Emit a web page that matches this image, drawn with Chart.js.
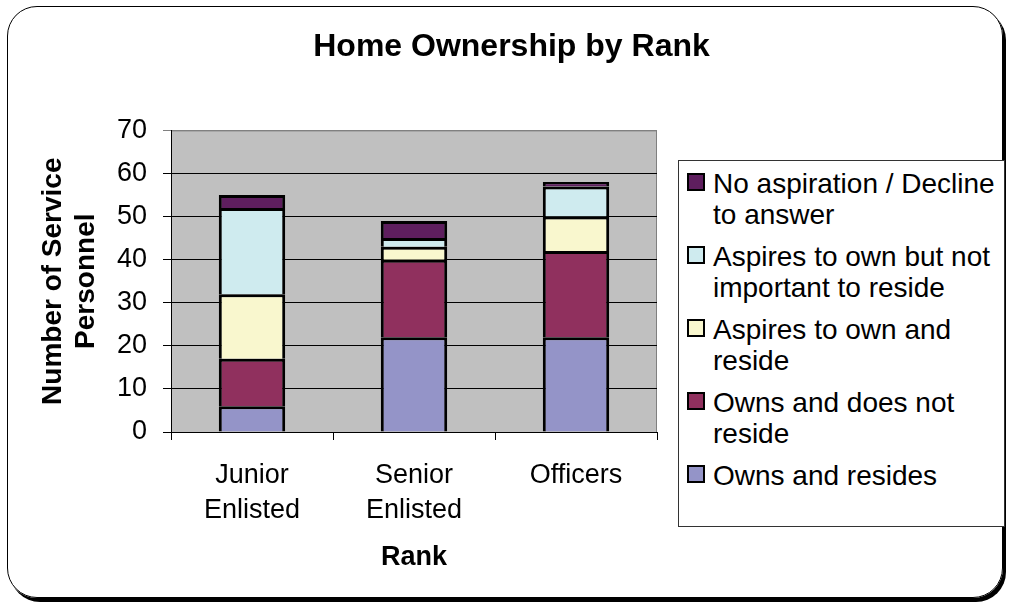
<!DOCTYPE html>
<html>
<head>
<meta charset="utf-8">
<title>Home Ownership by Rank</title>
<script src="https://cdn.jsdelivr.net/npm/chart.js@4.4.1/dist/chart.umd.min.js"></script>
<style>
  html, body { margin: 0; padding: 0; background: #fff; }
  body { width: 1009px; height: 606px; position: relative; overflow: hidden; font-family: "Liberation Sans", Arial, sans-serif; }
  #frame { position: absolute; left: 7px; top: 6px; width: 994px; height: 590px; border: 1.5px solid #000; border-radius: 30px; box-shadow: 3px 4px 0 #000; }
  #chart { position: absolute; left: 0; top: 0; }
  #legend { position: absolute; left: 678px; top: 160px; width: 327px; height: 367px; box-sizing: border-box; border: 1px solid #333; background: #fff; padding: 7px 0 0 8px; }
  .item { display: flex; align-items: flex-start; margin-bottom: 11px; }
  .swatch { width: 14px; height: 14px; border: 2px solid #000; margin: 5px 8px 0 0; flex: none; }
  .label { font-size: 28px; line-height: 31px; width: 290px; color: #000; }
</style>
</head>
<body>
<div id="frame"></div>
<canvas id="chart" width="1009" height="606"></canvas>
<div id="legend"></div>
<script>
// categories and series (stacked bottom to top)
const ranks = [['Junior', 'Enlisted'], ['Senior', 'Enlisted'], 'Officers'];
const seriesNames = [
  'Owns and resides',
  'Owns and does not reside',
  'Aspires to own and reside',
  'Aspires to own but not important to reside',
  'No aspiration / Decline to answer'
];
const ownsResides = [6, 22, 22];
const ownsNotReside = [11, 18, 20];
const aspiresReside = [15, 3, 8];
const aspiresNotReside = [20, 2, 7];
const noAspiration = [3, 4, 1];
const yTicks = [0, 10, 20, 30, 40, 50, 60, 70];

const seriesValues = [ownsResides, ownsNotReside, aspiresReside, aspiresNotReside, noAspiration];
const seriesColors = ['#9494C8', '#90305E', '#F9F7CE', '#CFEBEF', '#5E1E5E'];

Chart.defaults.font.family = '"Liberation Sans", Arial, sans-serif';
Chart.defaults.color = '#000';

// grey plot area with a lighter frame on top/right
const plotBg = {
  id: 'plotBg',
  beforeDraw(chart) {
    const { ctx, chartArea: a } = chart;
    ctx.save();
    ctx.fillStyle = '#C0C0C0';
    ctx.fillRect(a.left, a.top, a.right - a.left, a.bottom - a.top);
    ctx.strokeStyle = '#808080';
    ctx.lineWidth = 1;
    ctx.beginPath();
    ctx.moveTo(a.left, a.top + 0.5);
    ctx.lineTo(a.right - 0.5, a.top + 0.5);
    ctx.lineTo(a.right - 0.5, a.bottom);
    ctx.stroke();
    ctx.restore();
  }
};

const chart = new Chart(document.getElementById('chart'), {
  type: 'bar',
  data: {
    labels: ranks,
    datasets: seriesNames.map((name, i) => ({
      label: name,
      data: seriesValues[i],
      backgroundColor: seriesColors[i],
      borderColor: '#000',
      borderWidth: 3,
      categoryPercentage: 1,
      barPercentage: 0.41
    }))
  },
  options: {
    responsive: false,
    animation: false,
    layout: { padding: { top: 10, right: 6, bottom: 20, left: 20 } },
    plugins: {
      legend: { display: false },
      tooltip: { enabled: false },
      title: {
        display: true,
        text: 'Home Ownership by Rank',
        color: '#000',
        font: { size: 32, weight: 'bold', lineHeight: 1.2 },
        padding: { top: 18, bottom: 64 }
      }
    },
    scales: {
      x: {
        stacked: true,
        grid: { drawOnChartArea: false, color: '#000', tickLength: 8 },
        border: { color: '#000', width: 1 },
        ticks: { color: '#000', font: { size: 27, lineHeight: 1.3 }, padding: 18, maxRotation: 0 },
        title: { display: true, text: 'Rank', color: '#000', font: { size: 27, weight: 'bold' }, padding: { top: 0, bottom: 12 } },
        afterFit: s => { s.height = 154; }
      },
      y: {
        stacked: true,
        min: 0,
        max: 70,
        afterBuildTicks: s => { s.ticks = yTicks.map(v => ({ value: v })); },
        grid: { color: c => (c.tick && c.tick.value === 70 ? '#808080' : '#000'), tickLength: 8 },
        border: { color: '#000', width: 1 },
        ticks: { color: '#000', font: { size: 27 }, padding: 16 },
        title: {
          display: true,
          text: ['Number of Service', 'Personnel'],
          color: '#000',
          font: { size: 28, weight: 'bold', lineHeight: 1.2 },
          padding: { top: 16, bottom: 0 }
        },
        afterFit: s => { s.width = 151; }
      },
      // empty right-hand axis that reserves the space taken by the legend box
      legendSpace: {
        type: 'linear',
        position: 'right',
        grid: { display: false },
        ticks: { display: false },
        border: { display: false },
        afterFit: s => { s.width = 346; }
      }
    }
  },
  plugins: [plotBg]
});

// legend, top series first
const legendEl = document.getElementById('legend');
legendEl.innerHTML = chart.data.datasets.slice().reverse().map(ds =>
  `<div class="item"><div class="swatch" style="background:${ds.backgroundColor}"></div><div class="label">${ds.label}</div></div>`
).join('');
</script>
</body>
</html>
